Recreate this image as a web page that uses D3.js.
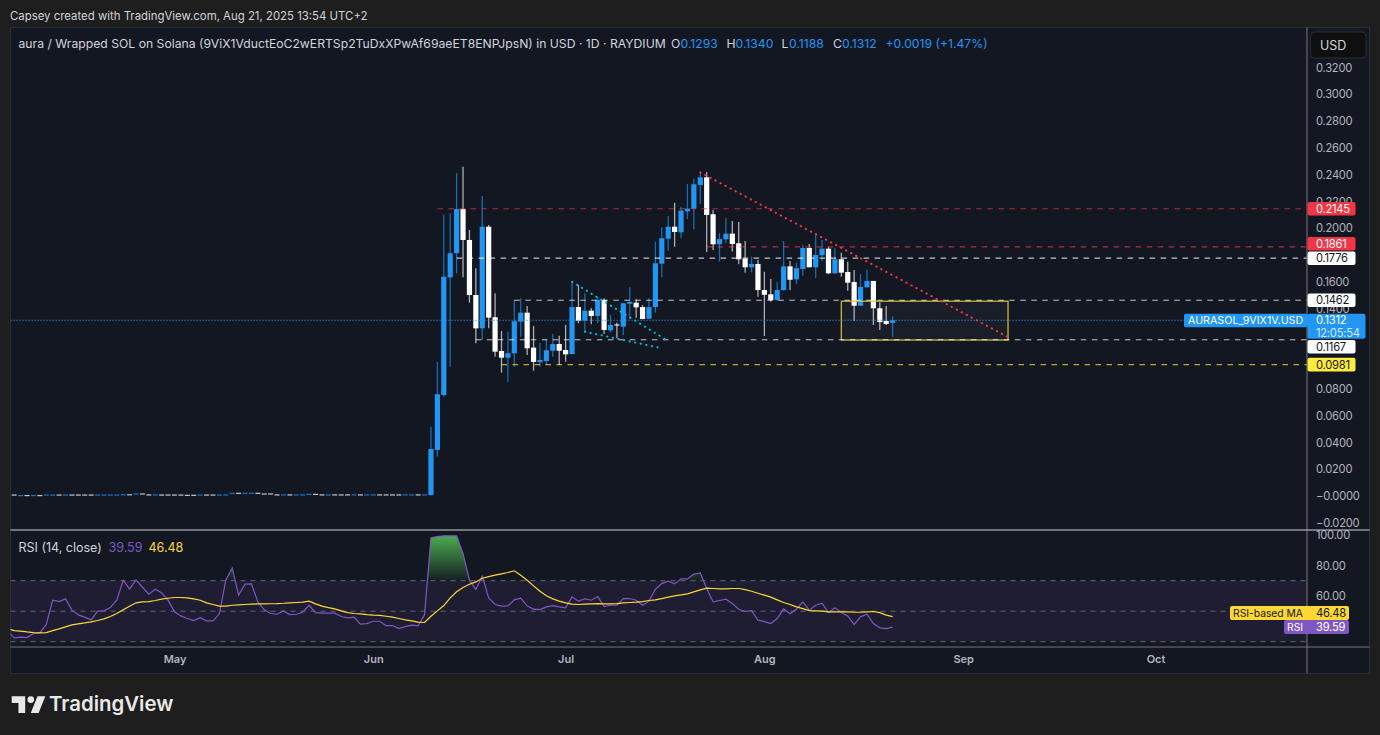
<!DOCTYPE html>
<html>
<head>
<meta charset="utf-8">
<script src="https://cdn.jsdelivr.net/npm/d3@7"></script>
<style>
  html, body { margin: 0; padding: 0; background: #1e1e1e; overflow: hidden; }
  text { font-family: Inter, "Noto Sans", sans-serif; }
  .num { letter-spacing: -0.25px; }
</style>
</head>
<body>
<script>
// candles from Jun 10 2025, one per day
var candleStart = Date.UTC(2025, 5, 10);
var opens = [.0007,.0344,.0754,.1633,.1813,.2143,.1912,.1501,.1252,.2011,.1335,.1083,.1033,.1066,.1302,.1369,.1108,.0999,.1008,.1085,.1135,.1090,.1060,.1411,.1309,.1384,.1344,.1464,.1237,.1281,.1264,.1436,.1444,.1411,.1324,.1411,.1735,.1922,.2011,.1969,.2126,.2146,.2323,.2380,.2104,.1880,.1917,.1959,.1887,.1772,.1708,.1733,.1538,.1506,.1464,.1538,.1715,.1618,.1695,.1852,.1708,.1798,.1847,.1663,.1768,.1673,.1598,.1421,.1559,.1606,.1402,.1307,.1293];
var highs = [.0518,.1001,.2099,.2111,.2410,.2459,.1987,.1701,.2240,.2024,.1514,.1232,.1227,.1464,.1476,.1419,.1270,.1143,.1173,.1210,.1197,.1277,.1600,.1576,.1514,.1404,.1486,.1476,.1352,.1294,.1444,.1559,.1469,.1426,.1476,.1899,.2007,.2091,.2190,.2161,.2330,.2370,.2417,.2417,.2136,.1962,.2074,.2054,.2046,.1904,.1787,.1763,.1675,.1621,.1596,.1904,.1755,.1742,.1872,.1882,.1962,.1912,.1862,.1850,.1817,.1750,.1688,.1658,.1688,.1606,.1447,.1419,.1340];
var lows = [.0005,.0294,.0742,.0966,.1663,.1633,.1444,.1140,.1165,.1252,.1040,.0921,.0854,.0966,.1190,.1053,.0936,.0966,.0978,.1040,.0978,.1003,.1060,.1290,.1227,.1282,.1290,.1210,.1220,.1178,.1202,.1320,.1332,.1320,.1322,.1369,.1633,.1832,.1862,.1925,.2069,.1992,.2181,.1822,.1837,.1750,.1887,.1825,.1730,.1668,.1671,.1488,.1195,.1451,.1459,.1533,.1538,.1583,.1645,.1708,.1628,.1755,.1658,.1658,.1638,.1533,.1307,.1419,.1551,.1277,.1240,.1277,.1188];
var closes = [.0351,.0760,.1638,.1813,.2143,.1912,.1501,.1252,.2011,.1332,.1078,.1033,.1066,.1305,.1369,.1103,.1001,.1016,.1088,.1135,.1085,.1058,.1411,.1309,.1384,.1344,.1464,.1240,.1277,.1273,.1439,.1449,.1409,.1322,.1411,.1738,.1925,.2011,.1972,.2131,.2146,.2328,.2380,.2099,.1880,.1919,.1959,.1882,.1768,.1708,.1733,.1538,.1503,.1464,.1538,.1715,.1615,.1701,.1852,.1708,.1800,.1847,.1663,.1768,.1668,.1593,.1421,.1561,.1606,.1402,.1299,.1285,.1312];

// flat stretch before the listing pump, from Apr 6 2025
var flatStart = Date.UTC(2025, 3, 6);
var flatLevels = [.0007,.0003,.0003,.0003,.0003,.0007,.0007,.0007,.0007,.0007,.0007,.0007,.0007,.0007,.0007,.0007,.0007,.0009,.0009,.0015,.0015,.0008,.0008,.0007,.0007,.0007,.0007,.0005,.0005,.0007,.0007,.0007,.0007,
  .0008,.0020,.0020,.0020,.0020,.0020,.0015,.0015,.0008,.0008,.0008,.0008,.0008,.0012,.0012,.0008,.0008,.0008,.0008,.0008,.0008,.0008,.0008,.0008,.0008,.0008,.0008,.0008,.0008,.0008,.0008,.0008];
var flatUp = [0,1,0,1,0,1,1,0,1,0,0,0,0,1,1,1,1,1,0,1,0,0,1,0,0,0,0,0,0,1,0,0,1,
  1,1,0,1,1,0,0,0,0,1,0,1,1,1,0,0,1,0,0,0,1,0,1,1,0,0,0,0,1,1,0,1];

// RSI and its moving average, from Apr 5 2025
var rsiStart = Date.UTC(2025, 3, 5);
var rsiValues = [36.9,32.5,33.0,32.7,35.4,35.8,41.3,57.2,56.3,58.1,50.7,47.6,46.1,44.3,50.0,50.2,52.4,57.4,70.3,64.6,70.5,65.7,61.1,64.4,62.0,57.2,
  49.6,46.9,45.2,43.9,45.8,43.7,43.7,48.3,70.3,78.4,60.5,67.7,67.9,56.1,50.9,48.5,48.0,50.2,47.8,48.0,49.3,53.9,49.1,48.7,48.7,48.7,46.5,45.6,46.1,41.5,41.9,43.4,43.4,40.6,40.6,38.6,39.9,40.8,40.4,47.8,
  98.1,99.0,99.4,99.4,99.4,87.8,70.3,64.2,73.0,58.7,54.4,53.3,53.5,57.4,58.5,53.5,51.3,51.1,52.8,53.7,52.8,52.2,59.4,56.6,58.1,57.2,59.6,53.1,53.9,53.9,58.3,58.3,57.2,53.9,56.6,64.4,68.1,69.7,67.9,71.2,71.2,74.3,75.1,64.9,
  56.1,57.0,57.9,55.0,51.3,49.8,50.4,44.1,43.2,41.9,45.2,51.5,48.3,51.3,56.1,50.7,53.9,55.2,49.1,52.2,49.1,46.9,41.3,46.3,48.0,41.9,39.1,38.6,39.59];
var maValues = [38.4,37.3,36.9,36.4,36.0,35.8,36.0,37.3,38.4,39.7,41.0,41.7,42.3,43.0,43.9,45.0,46.5,48.5,50.9,53.3,55.5,56.1,56.3,57.0,57.9,58.5,
  59.0,59.0,58.7,58.1,57.2,55.5,54.4,53.3,53.3,53.9,54.2,54.4,54.6,54.8,54.8,54.9,55.0,55.2,55.5,55.7,55.9,56.6,54.8,53.3,52.4,51.5,50.2,49.1,48.5,48.3,47.8,47.4,47.2,46.7,46.1,45.2,44.3,43.7,42.8,42.6,
  46.7,50.2,53.7,58.7,62.7,65.5,67.7,69.2,71.6,72.7,73.6,74.5,75.4,76.5,73.6,70.3,66.6,63.1,60.1,58.1,56.6,55.5,54.6,54.4,54.6,54.8,55.0,54.8,54.8,55.0,55.5,55.7,55.9,56.3,57.0,57.4,58.3,59.2,60.1,60.7,61.4,62.7,64.0,65.1,
  64.9,64.6,64.6,64.9,64.9,64.2,63.1,61.8,60.5,59.2,57.4,55.7,54.4,52.8,51.7,50.4,50.2,50.0,49.6,49.6,49.6,49.6,49.3,49.3,49.6,49.8,49.1,47.4,46.48];

var priceTicks = [.32,.30,.28,.26,.24,.22,.20,.16,.14,.08,.06,.04,.02,0,-.02];
var rsiTicks = [100, 80, 60];
var monthTicks = [Date.UTC(2025,4,1), Date.UTC(2025,5,1), Date.UTC(2025,6,1), Date.UTC(2025,7,1), Date.UTC(2025,8,1), Date.UTC(2025,9,1)];

// horizontal levels: price, colour, first day
var levelPrices = [.2145, .1861, .1776, .1462, .1167, .0981];
var levelLabels = ["0.2145", "0.1861", "0.1776", "0.1462", "0.1167", "0.0981"];
var levelStarts = [Date.UTC(2025,5,11), Date.UTC(2025,6,23), Date.UTC(2025,5,14), Date.UTC(2025,5,23), Date.UTC(2025,5,17), Date.UTC(2025,5,21)];
var levelColors = ["#f23645", "#f23645", "#ffffff", "#ffffff", "#ffffff", "#ffeb3b"];
var levelTextColors = ["#ffffff", "#ffffff", "#131722", "#131722", "#131722", "#131722"];
var lastPrice = .1312;

var boxDates = [Date.UTC(2025,7,13), Date.UTC(2025,8,8)];
var boxPrices = [.1455, .1165];
var redTrendDates = [Date.UTC(2025,6,22), Date.UTC(2025,8,8)];
var redTrendPrices = [.2417, .1187];
var tealUpperDates = [Date.UTC(2025,6,2), Date.UTC(2025,6,16,18)];
var tealUpperPrices = [.1600, .1165];
var tealLowerDates = [Date.UTC(2025,6,4), Date.UTC(2025,6,16)];
var tealLowerPrices = [.1227, .1103];

var W = 1380, H = 735;
var chartL = 10.5, chartR = 1369.5, chartT = 27.5, chartB = 673.5;
var axisX = 1307, sepY = 530, rsiB = 647;

var blue = "#2196f3", grey = "#b2b5be";
var axisFont = 11.2;

var svg = d3.select("body").append("svg")
  .attr("width", W).attr("height", H)
  .style("display", "block")
  .style("background", "#1e1e1e");

var x = d3.scaleUtc().domain([monthTicks[0], monthTicks[5]]).range([174.5, 1155.5]);
var y = d3.scaleLinear().domain([0, .32]).range([496, 67.5]);
var yRsi = d3.scaleLinear().domain([30, 70]).range([641.7, 580.7]);

function day(start, i) { return d3.utcDay.offset(new Date(start), i); }

var defs = svg.append("defs");
defs.append("clipPath").attr("id", "mainClip").append("rect")
  .attr("x", chartL).attr("y", chartT).attr("width", axisX - chartL).attr("height", sepY - chartT);
defs.append("clipPath").attr("id", "rsiClip").append("rect")
  .attr("x", chartL).attr("y", sepY).attr("width", axisX - chartL).attr("height", rsiB - sepY);
defs.append("clipPath").attr("id", "aboveClip").append("rect")
  .attr("x", chartL).attr("y", sepY).attr("width", axisX - chartL).attr("height", yRsi(70) - sepY);
var grad = defs.append("linearGradient").attr("id", "greenFade")
  .attr("gradientUnits", "userSpaceOnUse")
  .attr("x1", 0).attr("x2", 0).attr("y1", yRsi(100)).attr("y2", yRsi(70));
grad.append("stop").attr("offset", 0).attr("stop-color", "#4caf50");
grad.append("stop").attr("offset", 1).attr("stop-color", "#4caf50").attr("stop-opacity", .05);

// title above the chart
svg.append("text").attr("x", 10).attr("y", 16).attr("dy", ".35em")
  .attr("fill", "#d1d4dc").attr("font-size", 11.4)
  .text("Capsey created with TradingView.com, Aug 21, 2025 13:54 UTC+2");

svg.append("rect").attr("x", chartL).attr("y", chartT)
  .attr("width", chartR - chartL).attr("height", chartB - chartT)
  .attr("fill", "#131722").attr("stroke", "#2a2e39");

// --- price pane
var main = svg.append("g").attr("clip-path", "url(#mainClip)");

var flat = flatLevels.map(function(v, i) { return {date: day(flatStart, i), v: v, up: flatUp[i]}; });
main.append("g").selectAll("rect").data(flat).join("rect")
  .attr("x", function(d) { return x(d.date) - 2.5; })
  .attr("y", function(d) { return y(d.v) - .6; })
  .attr("width", 5).attr("height", 1.2)
  .attr("fill", function(d) { return d.up ? "#1976c8" : "#c8c8c8"; });

var candles = opens.map(function(o, i) {
  return {date: day(candleStart, i), o: o, h: highs[i], l: lows[i], c: closes[i]};
});
var candleColor = function(d) { return d.c >= d.o ? blue : "#ffffff"; };

main.append("g").selectAll("line").data(candles).join("line")
  .attr("x1", function(d) { return x(d.date); })
  .attr("x2", function(d) { return x(d.date); })
  .attr("y1", function(d) { return y(d.h); })
  .attr("y2", function(d) { return y(d.l); })
  .attr("stroke", candleColor).attr("stroke-width", 1.3).attr("stroke-opacity", .65);

main.append("g").selectAll("rect").data(candles).join("rect")
  .attr("x", function(d) { return x(d.date) - 2.6; })
  .attr("y", function(d) { return y(Math.max(d.o, d.c)); })
  .attr("width", 5.2)
  .attr("height", function(d) { return Math.max(1, y(Math.min(d.o, d.c)) - y(Math.max(d.o, d.c))); })
  .attr("fill", candleColor);

// last price line
main.append("line")
  .attr("x1", chartL).attr("x2", 1184).attr("y1", y(lastPrice)).attr("y2", y(lastPrice))
  .attr("stroke", blue).attr("stroke-width", 1.1).attr("stroke-dasharray", "1.2 1.8");

// box
main.append("rect")
  .attr("x", x(boxDates[0])).attr("y", y(boxPrices[0]))
  .attr("width", x(boxDates[1]) - x(boxDates[0]))
  .attr("height", y(boxPrices[1]) - y(boxPrices[0]))
  .attr("fill", "#d1d4dc").attr("fill-opacity", .04)
  .attr("stroke", "#d8c53a").attr("stroke-width", 1.2);

// dashed levels
main.append("g").selectAll("line").data(levelPrices).join("line")
  .attr("x1", function(d, i) { return x(new Date(levelStarts[i])); })
  .attr("x2", axisX)
  .attr("y1", function(d) { return y(d); })
  .attr("y2", function(d) { return y(d); })
  .attr("stroke", function(d, i) { return levelColors[i]; })
  .attr("stroke-opacity", function(d, i) { return i < 2 ? .7 : i == 5 ? .7 : .75; })
  .attr("stroke-width", 1.15)
  .attr("stroke-dasharray", "5.5 5.5");

// dotted trend lines
function dotted(dates, prices, color) {
  main.append("line")
    .attr("x1", x(new Date(dates[0]))).attr("x2", x(new Date(dates[1])))
    .attr("y1", y(prices[0])).attr("y2", y(prices[1]))
    .attr("stroke", color).attr("stroke-width", 2)
    .attr("stroke-linecap", "round")
    .attr("stroke-dasharray", "0.4 5.3");
}
dotted(redTrendDates, redTrendPrices, "#f23645");
dotted(tealUpperDates, tealUpperPrices, "#00bcd4");
dotted(tealLowerDates, tealLowerPrices, "#00bcd4");

// --- rsi pane
var rsiPane = svg.append("g").attr("clip-path", "url(#rsiClip)");
rsiPane.append("rect")
  .attr("x", chartL).attr("width", axisX - chartL)
  .attr("y", yRsi(70)).attr("height", yRsi(30) - yRsi(70))
  .attr("fill", "#7e57c2").attr("fill-opacity", .1);
rsiPane.append("g").selectAll("line").data([70, 50, 30]).join("line")
  .attr("x1", chartL).attr("x2", axisX)
  .attr("y1", function(d) { return yRsi(d); })
  .attr("y2", function(d) { return yRsi(d); })
  .attr("stroke", "#787b86").attr("stroke-dasharray", "5 5").attr("stroke-opacity", .8);

var rsiPts = rsiValues.map(function(v, i) { return {date: day(rsiStart, i), v: v}; });
var maPts = maValues.map(function(v, i) { return {date: day(rsiStart, i), v: v}; });

rsiPane.append("path").datum(rsiPts)
  .attr("clip-path", "url(#aboveClip)")
  .attr("fill", "url(#greenFade)")
  .attr("d", d3.area()
    .x(function(d) { return x(d.date); })
    .y0(yRsi(70))
    .y1(function(d) { return yRsi(d.v); }));

var rsiLine = d3.line().x(function(d) { return x(d.date); }).y(function(d) { return yRsi(d.v); });
rsiPane.append("path").datum(rsiPts).attr("d", rsiLine)
  .attr("fill", "none").attr("stroke", "#7e57c2").attr("stroke-width", 1.2);
rsiPane.append("path").datum(maPts).attr("d", rsiLine)
  .attr("fill", "none").attr("stroke", "#fdd835").attr("stroke-width", 1.2);

// --- frame lines
svg.append("line").attr("x1", axisX).attr("x2", axisX).attr("y1", chartT).attr("y2", chartB)
  .attr("stroke", "#787878");
svg.append("line").attr("x1", chartL).attr("x2", chartR).attr("y1", sepY).attr("y2", sepY)
  .attr("stroke", "#d1d4dc");
svg.append("line").attr("x1", chartL).attr("x2", chartR).attr("y1", rsiB).attr("y2", rsiB)
  .attr("stroke", "#787878");

// --- axes
var signFmt = function(d) { return d == 0 ? "\u22120.0000" : d3.format(".4f")(d).replace("-", "\u2212"); };
var priceAxis = d3.axisRight(y).tickValues(priceTicks).tickSize(0).tickPadding(9).tickFormat(signFmt);
var gP = svg.append("g").attr("transform", "translate(" + axisX + ",0)").call(priceAxis);
gP.select(".domain").remove();
gP.selectAll("text").attr("class", "num").attr("fill", grey).attr("font-size", axisFont).style("font-family", "Inter");

var rsiAxis = d3.axisRight(yRsi).tickValues(rsiTicks).tickSize(0).tickPadding(9).tickFormat(d3.format(".2f"));
var gR = svg.append("g").attr("transform", "translate(" + axisX + ",0)").call(rsiAxis);
gR.select(".domain").remove();
gR.selectAll("text").attr("class", "num").attr("fill", grey).attr("font-size", axisFont).style("font-family", "Inter");

var timeAxis = d3.axisBottom(x).tickValues(monthTicks.map(function(d) { return new Date(d); }))
  .tickSize(0).tickPadding(8).tickFormat(d3.utcFormat("%b"));
var gT = svg.append("g").attr("transform", "translate(0," + rsiB + ")").call(timeAxis);
gT.select(".domain").remove();
gT.selectAll("text").attr("fill", grey).attr("font-size", 11).attr("font-weight", 600).style("font-family", "Inter");

// --- price labels on the axis
var labelNudge = [0, -3, 0, 0, 7, 0];
var labels = svg.append("g").selectAll("g").data(levelPrices).join("g")
  .attr("transform", function(d, i) { return "translate(" + axisX + "," + (y(d) + labelNudge[i]) + ")"; });
labels.append("rect").attr("x", .5).attr("y", -6.8).attr("width", 48).attr("height", 13.6).attr("rx", 2)
  .attr("fill", function(d, i) { return levelColors[i]; });
labels.append("text").attr("class", "num").attr("x", 9).attr("dy", ".36em").attr("font-size", axisFont)
  .attr("fill", function(d, i) { return levelTextColors[i]; })
  .text(function(d, i) { return levelLabels[i]; });

// current price tag
var tagY = y(lastPrice);
svg.append("rect").attr("x", 1184).attr("y", tagY - 6.5).attr("width", 124).attr("height", 13.5).attr("rx", 2).attr("fill", blue);
svg.append("text").attr("x", 1188).attr("y", tagY).attr("dy", ".36em").attr("font-size", 10.7).attr("fill", "#ffffff")
  .text("AURASOL_9VIX1V.USD");
svg.append("rect").attr("x", axisX + .5).attr("y", tagY - 6.5).attr("width", 58).attr("height", 25).attr("rx", 2).attr("fill", blue);
svg.append("text").attr("class", "num").attr("x", 1316).attr("y", tagY).attr("dy", ".36em").attr("font-size", axisFont).attr("fill", "#ffffff").text("0.1312");
svg.append("text").attr("class", "num").attr("x", 1316).attr("y", tagY + 12.5).attr("dy", ".36em").attr("font-size", axisFont).attr("fill", "#d3e9fc").text("12:05:54");

// rsi tags
var maTagY = yRsi(maValues[maValues.length - 1]) - 3.5;
var rsiTagY = yRsi(rsiValues[rsiValues.length - 1]) - .2;
svg.append("rect").attr("x", 1230).attr("y", maTagY - 7).attr("width", 119).attr("height", 14).attr("rx", 2).attr("fill", "#fdd835");
svg.append("text").attr("x", 1233).attr("y", maTagY).attr("dy", ".36em").attr("font-size", 10.3).attr("fill", "#131722").text("RSI-based MA");
svg.append("text").attr("class", "num").attr("x", 1316).attr("y", maTagY).attr("dy", ".36em").attr("font-size", axisFont).attr("fill", "#131722").text("46.48");
svg.append("rect").attr("x", 1284).attr("y", rsiTagY - 7).attr("width", 65).attr("height", 14).attr("rx", 2).attr("fill", "#7e57c2");
svg.append("text").attr("x", 1287).attr("y", rsiTagY).attr("dy", ".36em").attr("font-size", 10.3).attr("fill", "#ffffff").text("RSI");
svg.append("text").attr("class", "num").attr("x", 1316).attr("y", rsiTagY).attr("dy", ".36em").attr("font-size", axisFont).attr("fill", "#ffffff").text("39.59");

// USD button
svg.append("rect").attr("x", 1310.5).attr("y", 32).attr("width", 55.5).attr("height", 26).attr("rx", 4)
  .attr("fill", "#0f0f0f").attr("stroke", "#2a2e39");
svg.append("text").attr("x", 1320).attr("y", 45).attr("dy", ".36em").attr("font-size", 12.5).attr("fill", "#d1d4dc").text("USD");

// --- legend
var legendFont = 12.2;
svg.append("text").attr("x", 18.5).attr("y", 44).attr("dy", ".36em").attr("font-size", legendFont).attr("fill", "#d1d4dc")
  .text("aura / Wrapped SOL on Solana (9ViX1VductEoC2wERTSp2TuDxXPwAf69aeET8ENPJpsN) in USD \u00b7 1D \u00b7 RAYDIUM");
var ohlcLabels = ["O", "H", "L", "C"];
var ohlcValues = ["0.1293", "0.1340", "0.1188", "0.1312"];
var ohlcLetterX = [671, 726.5, 781.5, 833];
var ohlcValueX = [680.5, 735.5, 789, 842];
ohlcLabels.forEach(function(t, i) {
  svg.append("text").attr("x", ohlcLetterX[i]).attr("y", 44).attr("dy", ".36em").attr("font-size", legendFont).attr("fill", "#d1d4dc").text(t);
  svg.append("text").attr("x", ohlcValueX[i]).attr("y", 44).attr("dy", ".36em").attr("font-size", legendFont).attr("fill", blue).text(ohlcValues[i]);
});
svg.append("text").attr("x", 885.5).attr("y", 44).attr("dy", ".36em").attr("font-size", legendFont).attr("fill", blue).text("+0.0019 (+1.47%)");

svg.append("text").attr("x", 18.5).attr("y", 547).attr("dy", ".36em").attr("font-size", 12.5).attr("fill", "#d1d4dc").text("RSI (14, close)");
svg.append("text").attr("x", 108.5).attr("y", 547).attr("dy", ".36em").attr("font-size", 12.5).attr("fill", "#7e57c2").text("39.59");
svg.append("text").attr("x", 148.5).attr("y", 547).attr("dy", ".36em").attr("font-size", 12.5).attr("fill", "#fdd835").text("46.48");

// --- logo
svg.append("path")
  .attr("transform", "translate(9.5,689.5) scale(1.12)")
  .attr("fill", "#e8e8e8")
  .attr("d", "M14 6H2v6h6v9h6V6zm12 15h-7l6-15h7l-6 15zm-7-9a3 3 0 1 0 0-6 3 3 0 0 0 0 6z");
svg.append("text").attr("x", 49).attr("y", 704).attr("dy", ".36em").attr("font-size", 20.4).attr("font-weight", 600)
  .attr("fill", "#e8e8e8").text("TradingView");
</script>
</body>
</html>
